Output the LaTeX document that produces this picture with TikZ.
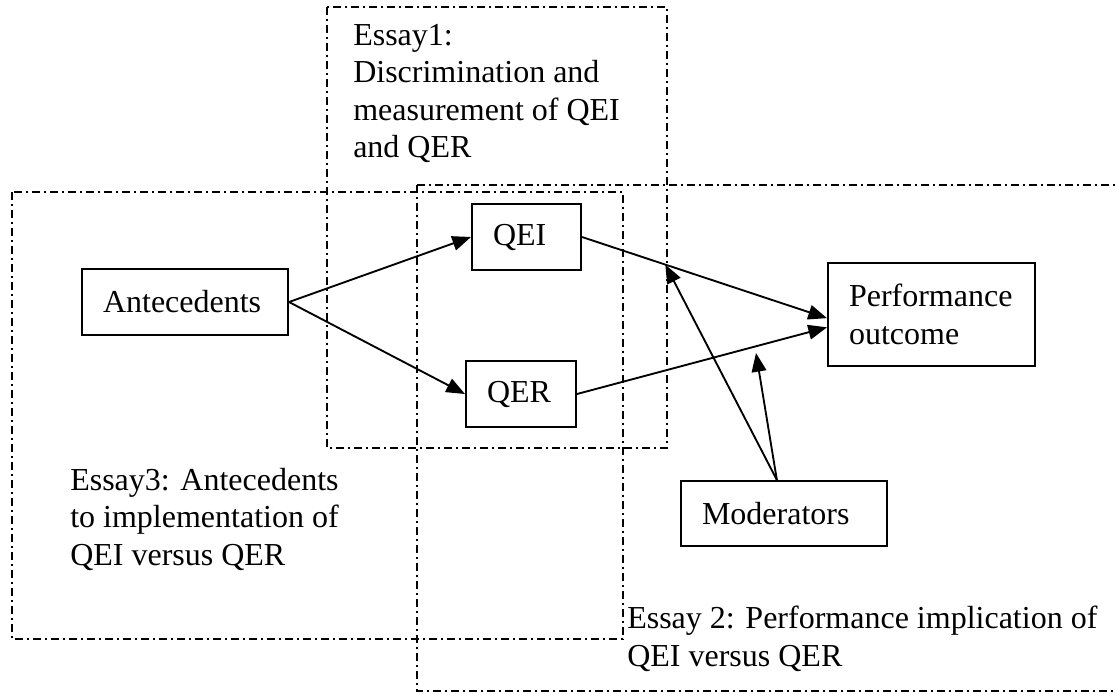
\documentclass[tikz,border=0pt]{standalone}
\usepackage{fontspec}
\setmainfont{Liberation Serif}
\usetikzlibrary{arrows.meta}

\begin{document}
\begin{tikzpicture}[x=0.75pt,y=-0.75pt,
  every node/.style={font=\fontsize{24}{28.1}\selectfont},
  textbox/.style={draw, line width=1.5pt, align=left, inner ysep=0pt,
    inner xsep=15.75pt, text width=#1},
  link/.style={line width=1.4pt, -{Triangle[length=14pt,width=11pt]}},
  essay/.style={line width=0.9pt, dash pattern=on 6pt off 3pt on 1.5pt off 3pt},
  caption/.style={anchor=north west, align=left, inner sep=0pt}]
\useasboundingbox (0,0) rectangle (1116,693);

% study regions
\begin{scope}
  \clip (0,0) rectangle (1116,693);
  \draw[essay] (327,7) rectangle (667,448);
  \draw[essay] (12,192) rectangle (623,639);
  \draw[essay] (417,185) rectangle (1130,691);
\end{scope}

% region captions
\node[caption] (e1) at (353,24) {Essay1:\\Discrimination and\\measurement of QEI\\and QER};
\node[caption] (e3) at (70,468) {Essay3: Antecedents\\to implementation of\\QEI versus QER};
\node[caption] (e2) at (627,606) {Essay 2: Performance implication of\\QEI versus QER};

% constructs
\node[textbox=123pt, minimum height=49.5pt] (ante) at (185,302) {Antecedents};
\node[textbox=50.25pt, minimum height=49.5pt] (qei) at (526.5,237) {QEI};
\node[textbox=51pt, minimum height=49.5pt] (qer) at (521,394) {QER};
\node[textbox=123.75pt, minimum height=77.25pt] (perf) at (931.5,314.5) {Performance\\outcome};
\node[textbox=123pt, minimum height=48.75pt] (mod) at (784,513.5) {Moderators};

% relationships
\draw[link] (ante.east) -- (qei.west);
\draw[link] (ante.east) -- (qer.west);
\draw[link] (qei.east) -- (perf.182) coordinate[pos=0.34] (m1);
\draw[link] (qer.east) -- (perf.187.5);
\coordinate (m2) at (756,353);
\draw[link] (mod.102) -- (m1);
\draw[link] (mod.102) -- (m2);
\end{tikzpicture}
\end{document}
